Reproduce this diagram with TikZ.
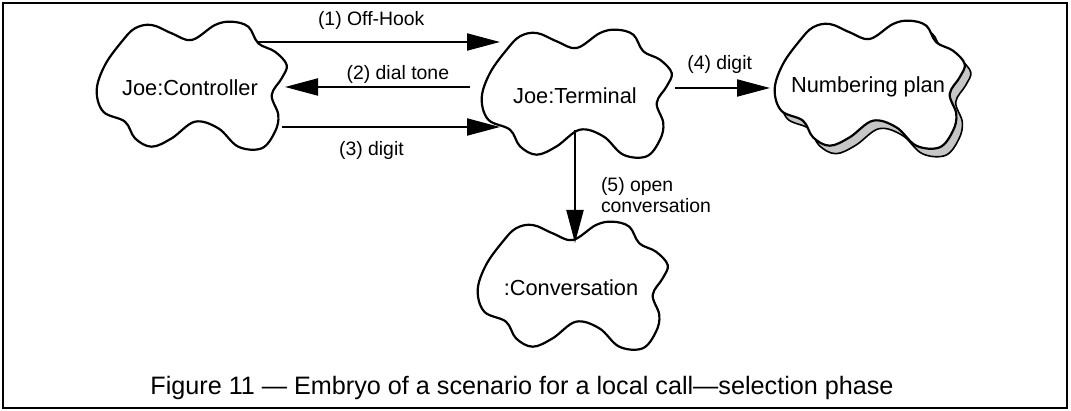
\documentclass[tikz,border=0pt]{standalone}
\usepackage{fontspec}
\setmainfont{Liberation Sans}
\usetikzlibrary{calc,arrows.meta,backgrounds}
\newcommand\DrawCloud[2][]{%
  \draw[cloud line,shift={(#2)},#1] plot[smooth cycle,tension=0.6] coordinates {
    (-55,-59.7) (-68.3,-46.3) (-85,-23) (-93.3,2) (-86.7,23.7) (-65,33.7)
    (-55,50.3) (-38.3,58.7) (-18.3,50.3) (5,33.7) (28.3,40.3) (48.3,58.7)
    (71.7,60.3) (85,43.7) (88.3,27) (81.7,7) (91.7,-9.7) (96.7,-23)
    (85,-36.3) (68.3,-44.7) (58.3,-61.3) (41.7,-66.3) (25,-63) (1.7,-48)
    (-18.3,-54.7) (-38.3,-63)};
}
\tikzset{%
  cloud line/.style={line width=1.1pt,line join=round},
  shadow cloud/.style={fill=gray!45,line width=0.8pt},
  cloud text/.style={inner sep=0pt,font=\fontsize{10.9}{13}\selectfont},
  msg/.style={line width=1pt,-{Triangle[length=16.5pt,width=8.5pt]}},
  lbl/.style={inner sep=1pt,font=\fontsize{9.7}{10.5}\selectfont},
  caption/.style={inner sep=0pt,font=\fontsize{12.6}{15}\selectfont}
}
\begin{document}
\begin{tikzpicture}[x=0.5pt,y=-0.5pt]

\useasboundingbox (0,0) rectangle (1071,411);
\draw[line width=1pt] (3,3) rectangle (1067,408);

%% objects

\node[cloud text] (ctrl) at (190,88) {Joe:Controller};
\node[cloud text] (term) at (575,96) {Joe:Terminal};
\node[cloud text] (plan) at (868,87) {Numbering plan};
\node[cloud text] (conv) at (571,288) {:Conversation};

\DrawCloud{ctrl}
\DrawCloud{term}
\DrawCloud{conv}
\begin{scope}[on background layer]
  \DrawCloud[shadow cloud,xshift=3pt,yshift=-4pt]{plan} % shadow
  \DrawCloud[fill=white]{plan}
\end{scope}

%% messages

\draw[msg] ($(ctrl)+(67,-46)$) -- node[lbl,above=4.5pt,pos=0.47] {(1) Off-Hook}
    ($(term)+(-75,-54)$);
\draw[msg] ($(term)+(-105,-9)$) -- node[lbl,above,pos=0.39] {(2) dial tone}
    ($(ctrl)+(95,-1)$);
\draw[msg] ($(ctrl)+(92,39)$) -- node[lbl,below=5.5pt,pos=0.41] {(3) digit}
    ($(term)+(-75,31)$);
\draw[msg] ($(term)+(100,-8)$) -- node[lbl,above=5.5pt,pos=0.47] {(4) digit}
    ($(plan)+(-98,1)$);
\draw[msg] ($(term)+(0,34)$) -- node[lbl,right=11.5pt,pos=0.575,align=left]
    {(5) open\\conversation} ($(conv)+(4,-45)$);

%% caption

\node[caption] (cap) at (522,388)
  {Figure 11 — Embryo of a scenario for a local call—selection phase};
\end{tikzpicture}
\end{document}
